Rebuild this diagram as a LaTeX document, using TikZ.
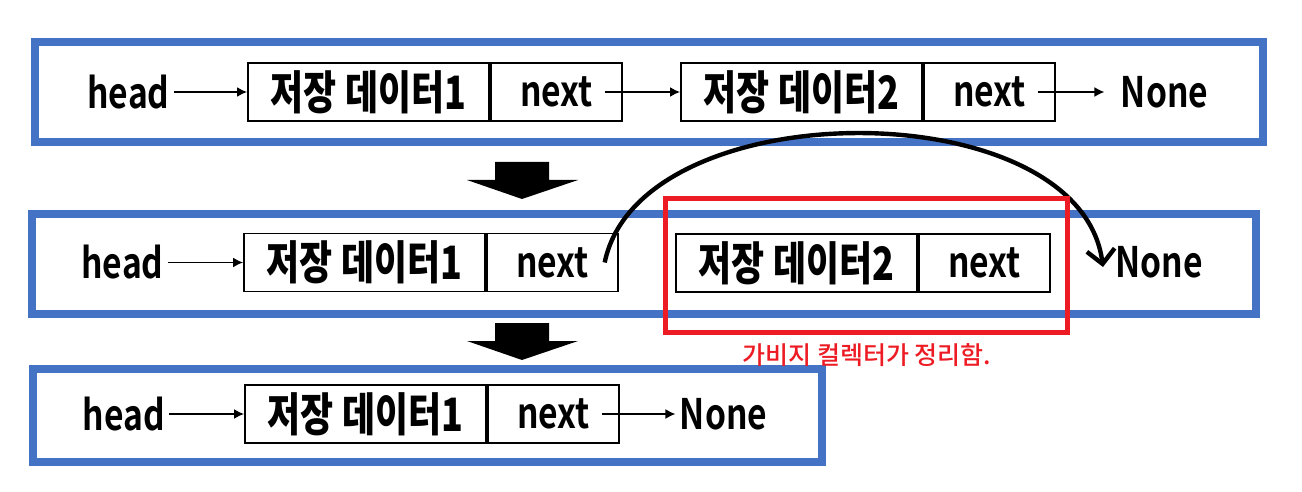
\documentclass[tikz,border=0pt]{standalone}
\usepackage{fontspec}
\newfontfamily\krbold{Noto Sans CJK KR}[UprightFont=* Bold, FakeStretch=0.8]
\newfontfamily\krblack{Noto Sans CJK KR}[UprightFont=* Black, FakeStretch=0.78]
\newfontfamily\krmed{Noto Sans CJK KR}[UprightFont=* Medium]
\usetikzlibrary{arrows, arrows.meta, positioning}
\definecolor{panelblue}{HTML}{4472C4}
\definecolor{gcred}{HTML}{ED1C24}
\tikzset{
	panel/.style={draw=panelblue, line width=4pt},
	cell/.style={draw=black, line width=0.9pt, minimum height=29pt, inner sep=0pt, font=\krbold\fontsize{21}{21}\selectfont},
	datacell/.style={cell, minimum width=120.5pt, font=\krblack\fontsize{23}{23}\selectfont},
	nextcell/.style={cell, minimum width=65.5pt},
	word/.style={inner sep=2pt, font=\krbold\fontsize{21}{21}\selectfont},
	link/.style={-{Latex[length=5pt, width=5pt]}, line width=0.9pt},
}

\begin{document}
\begin{tikzpicture}[x=0.5pt, y=-0.5pt]
	\useasboundingbox			(0,0) rectangle (1302,492);
	% panels
	\draw[panel]				(35,42.5) rectangle (1262.5,142);
	\draw[panel]				(32,213.5) rectangle (1256,313.5);
	\draw[panel]				(32.5,368.5) rectangle (822,461.5);
	% block arrows
	\fill[black]				(495,162) -- (549,162) -- (549,180) -- (578,180) -- (522,199) -- (467,180) -- (495,180) -- cycle;
	\fill[black]				(495,323) -- (549,323) -- (549,341) -- (578,341) -- (522,360) -- (467,341) -- (495,341) -- cycle;
	% row 1
	\node[word] (h1)			at (128.5,92) {head};
	\node[datacell] (d1)			at (368.5,92) {저장 데이터1};
	\node[nextcell, right=0pt of d1] (n1)	{next};
	\node[datacell] (d2)			at (801.5,92) {저장 데이터2};
	\node[nextcell, right=0pt of d2] (n2)	{next};
	\node[word] (e1)			at (1164.5,92) {None};
	\draw[link]				(h1) -- (d1);
	\draw[link]				([xshift=-9pt]n1.east) -- (d2);
	\draw[link]				([xshift=-9pt]n2.east) -- ([xshift=-6pt]e1.west);
	% row 2
	\node[word] (h2)			at (122.5,262.5) {head};
	\node[datacell] (m1)			at (364.5,262.5) {저장 데이터1};
	\node[nextcell, right=0pt of m1] (m1n)	{next};
	\node[datacell] (m2)			at (796.5,263) {저장 데이터2};
	\node[nextcell, right=0pt of m2] (m2n)	{next};
	\node[word] (e2)			at (1159,262) {None};
	\draw[link]				(h2) -- (m1);
	\draw[line width=2.2pt, -{Straight Barb[length=7pt, width=14pt]}]	([xshift=-7pt]m1n.east) .. controls (640,90) and (1080,90) .. ([shift={(-4pt,-2.5pt)}]e2.west);
	\draw[gcred, line width=2.5pt]		(665,199) rectangle (1067,332.5);
	\node[text=gcred, font=\krmed\fontsize{12.5}{12.5}\selectfont] (gc)	at (867,355.5) {가비지 컬렉터가 정리함.};
	% row 3
	\node[word] (h3)			at (124,414) {head};
	\node[datacell] (k1)			at (365.5,414) {저장 데이터1};
	\node[nextcell, right=0pt of k1] (k1n)	{next};
	\node[word] (e3)			at (723.5,414) {None};
	\draw[link]				(h3) -- (k1);
	\draw[link]				([xshift=-9pt]k1n.east) -- (e3);
\end{tikzpicture}
\end{document}
